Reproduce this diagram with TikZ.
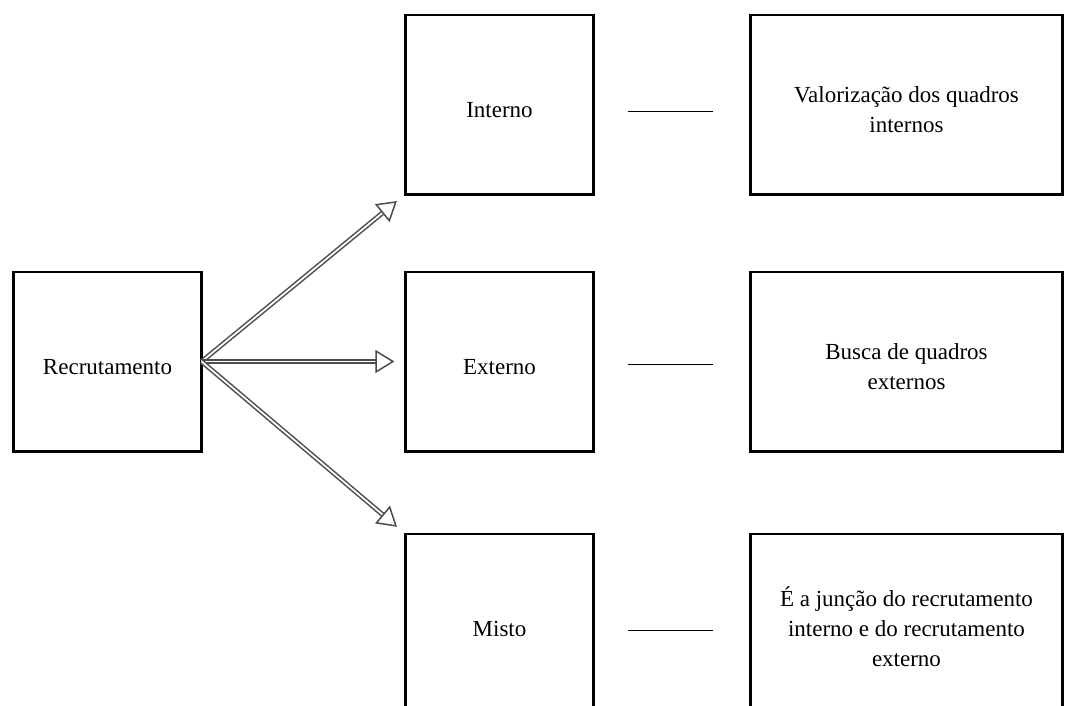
\documentclass[tikz,border=0pt]{standalone}
\usepackage{fontspec}
\setmainfont{Liberation Serif}
\usepackage{tikz}
\usetikzlibrary{arrows.meta}
\usetikzlibrary{matrix}
% cell text: stacked lines, set a little below the box centre
\newcommand\cel[1]{\raisebox{-3.5pt}[\height][\depth]{\begin{tabular}{@{}c@{}}#1\end{tabular}}}
\tikzstyle{box}=[draw, line width=1.4pt, outer sep=0pt,
  minimum width=94.1pt, minimum height=89.6pt, font=\fontsize{11.5}{15}\selectfont]
\tikzstyle{rchead}=[>/.tip={Triangle[open,length=9.5pt,width=11.5pt,line width=.75pt,fill=white]}]
\tikzstyle{rc}=[draw=black!70, line width=.75pt, double=white, double distance=.9pt, rchead, ->, shorten >=5.5pt]
\tikzstyle{tie}=[line width=.9pt, shorten <=17pt, shorten >=18.5pt]
\begin{document}
\begin{tikzpicture}
	\useasboundingbox (0,0) rectangle (532.5pt,-353pt);
	\matrix [matrix of nodes, nodes={box}, column 3/.style={nodes={minimum width=156.1pt}}] (m) at (269pt,-182pt) {
	                            &[100.5pt] \cel{Interno} &[77pt] \cel{Valorização dos quadros\\internos}
	\\[37.5pt] \cel{Recrutamento} &        \cel{Externo} &        \cel{Busca de quadros\\externos}
	\\[40pt]                    &          \cel{Misto}   &        \cel{É a junção do recrutamento\\interno e do recrutamento\\externo}
	\\ };
	\draw[rc] (m-2-1.east) -- (m-1-2.south west);
	\draw[rc] (m-2-1.east) -- (m-2-2.west);
	\draw[rc] (m-2-1.east) -- (m-3-2.north west);
	\draw[tie] ([yshift=-3.5pt]m-1-2.east) -- ([yshift=-3.5pt]m-1-3.west);
	\draw[tie] ([yshift=-1.5pt]m-2-2.east) -- ([yshift=-1.5pt]m-2-3.west);
	\draw[tie] ([yshift=-3.5pt]m-3-2.east) -- ([yshift=-3.5pt]m-3-3.west);
\end{tikzpicture}
\end{document}
